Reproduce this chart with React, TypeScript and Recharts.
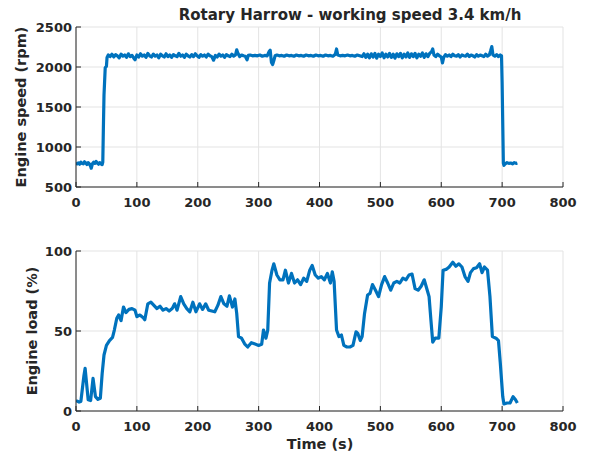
import { LineChart, Line, XAxis, YAxis, CartesianGrid } from "recharts";

const SPEED_T = [
  0, 2, 4, 6, 8, 10, 12, 14, 16, 18, 20, 22, 24, 25, 27, 29, 31, 33, 35, 37, 39, 41, 43, 44, 45, 46, 47, 48, 50, 51,
  53, 56, 59, 62, 65, 68, 71, 74, 77, 80, 83, 86, 89, 92, 95, 97, 100, 103, 106, 109, 112, 115, 118, 121, 124, 127,
  130, 133, 136, 139, 142, 145, 148, 151, 154, 157, 160, 163, 166, 169, 172, 175, 178, 181, 184, 187, 190, 193, 196,
  199, 202, 205, 208, 211, 214, 217, 220, 223, 226, 229, 232, 235, 238, 241, 244, 247, 250, 253, 256, 259, 262, 264,
  266, 269, 272, 275, 278, 281, 283, 286, 290, 294, 298, 302, 306, 310, 314, 317, 319, 321, 323, 325, 327, 330, 334,
  338, 342, 346, 350, 354, 358, 362, 366, 370, 374, 378, 382, 386, 390, 394, 398, 402, 406, 410, 414, 418, 422, 426,
  428, 430, 434, 438, 442, 446, 450, 454, 458, 462, 466, 470, 473, 476, 479, 482, 485, 488, 491, 494, 497, 500, 503,
  506, 509, 512, 515, 518, 521, 524, 527, 530, 533, 536, 539, 542, 545, 548, 551, 554, 557, 560, 563, 566, 569, 572,
  575, 578, 581, 584, 586, 588, 591, 594, 597, 600, 602, 604, 607, 610, 613, 616, 619, 622, 625, 628, 631, 634, 637,
  640, 643, 646, 649, 652, 655, 658, 661, 664, 667, 670, 673, 676, 679, 681, 683, 685, 688, 691, 694, 697, 699, 700,
  701, 702, 703, 705, 708, 711, 714, 717, 720, 723, 725,
];
const SPEED_RPM = [
  805, 790, 800, 785, 810, 795, 790, 815, 800, 780, 805, 790, 760, 735, 790, 810, 795, 820, 800, 785, 805, 790, 780, 810, 1250, 1650, 1820, 1990, 2010, 2120,
  2150, 2130, 2160, 2125, 2155, 2140, 2115, 2160, 2135, 2150, 2120, 2165, 2130, 2145, 2110, 2090, 2150, 2125, 2165, 2135, 2150, 2120, 2170, 2140, 2125, 2160,
  2135, 2150, 2115, 2160, 2140, 2125, 2165, 2130, 2150, 2120, 2155, 2140, 2130, 2170, 2135, 2150, 2120, 2160, 2140, 2125, 2155, 2130, 2165,
  2140, 2120, 2155, 2135, 2150, 2125, 2160, 2140, 2130, 2085, 2145, 2125, 2160, 2135, 2150, 2120, 2155, 2140, 2130, 2160, 2135, 2150, 2215,
  2170, 2130, 2150, 2140, 2135, 2090, 2145, 2150, 2140, 2145, 2140, 2150, 2135, 2145, 2140, 2190, 2210, 2060, 2030, 2080, 2140, 2150, 2140,
  2145, 2135, 2150, 2140, 2145, 2135, 2150, 2140, 2145, 2135, 2150, 2140, 2145, 2135, 2150, 2140, 2145, 2135, 2150, 2140, 2145, 2135, 2160,
  2225, 2150, 2140, 2145, 2140, 2150, 2140, 2145, 2135, 2150, 2140, 2130, 2165, 2120, 2160, 2115, 2165, 2125, 2170, 2110, 2160, 2130, 2175,
  2115, 2160, 2125, 2170, 2120, 2160, 2110, 2165, 2130, 2170, 2115, 2160, 2125, 2175, 2120, 2165, 2130, 2170, 2115, 2160, 2135, 2175, 2120,
  2165, 2130, 2170, 2190, 2225, 2150, 2130, 2160, 2140, 2125, 2050, 2120, 2155, 2135, 2150, 2130, 2160, 2140, 2135, 2155, 2125, 2150, 2140,
  2135, 2160, 2130, 2150, 2140, 2125, 2155, 2135, 2150, 2140, 2130, 2160, 2135, 2150, 2200, 2255, 2150, 2135, 2155, 2130, 2150, 2140, 1800,
  1300, 800, 770, 790, 805, 795, 800, 790, 805, 795, 800,
];

const LOAD_T = [
  0, 5, 8, 13, 15, 20, 24, 28, 32, 36, 40, 43, 46, 50, 55, 60, 63, 67, 70, 74, 78, 82, 87, 92, 97, 100, 105, 110, 113,
  118, 123, 128, 133, 138, 143, 148, 153, 158, 162, 166, 172, 177, 182, 187, 192, 197, 203, 208, 213, 218, 223, 228,
  233, 238, 243, 248, 252, 257, 261, 264, 267, 272, 277, 282, 288, 293, 300, 305, 308, 312, 315, 318, 322, 325, 330,
  335, 340, 344, 349, 354, 359, 364, 369, 374, 379, 384, 388, 393, 398, 403, 408, 413, 418, 421, 424, 428, 432, 436,
  440, 445, 450, 455, 460, 463, 467, 470, 474, 479, 483, 487, 492, 497, 502, 507, 512, 517, 522, 527, 532, 537, 542,
  547, 552, 557, 562, 567, 572, 577, 580, 583, 586, 590, 596, 600, 603, 608, 613, 619, 624, 629, 634, 639, 644, 648,
  653, 658, 663, 667, 671, 676, 680, 684, 690, 694, 697, 701, 703, 708, 713, 718, 722, 725,
];
const LOAD_PCT = [
  6.5, 5.6, 6, 22, 26.7, 7, 6.5, 20.4, 9, 7.3, 8, 23.5, 35, 41, 44, 46, 50.6, 58, 60, 56.5, 65, 61.5, 63.5, 64, 63, 59, 60, 58.5, 57,
  67, 68, 66, 64, 65.5, 63, 64, 62.5, 64, 67, 63, 71.5, 67, 64, 62, 68, 62, 67, 63.5, 67, 63, 62.5, 62,
  66, 71.5, 67, 65.5, 72, 65, 70, 61, 46.5, 45.5, 42, 40, 42.7, 42, 41, 41.7, 50.6, 45.5, 50.6, 80, 88, 92, 85,
  82, 82, 88, 80, 86, 80, 82, 79, 83, 81, 88, 91, 85, 83, 84, 82, 86, 80, 87, 81, 50.6, 46.5, 47.5,
  41, 40, 40, 41, 49.5, 48.5, 44, 46.5, 61, 72.5, 73.5, 79, 75.5, 71.5, 79, 84, 80, 75.5, 80, 81, 80, 83, 82,
  85, 85.6, 76.5, 75.5, 78, 82, 75.5, 71.5, 57, 43, 45.5, 45.5, 65, 88, 88.5, 90, 93, 90.5, 92, 90, 84, 81, 86.5,
  89, 89.5, 92, 86.5, 90, 88, 71.5, 46.5, 45.5, 44, 30, 9, 4.4, 5, 5, 9, 7, 5,
];

const X_TICKS = [0, 100, 200, 300, 400, 500, 600, 700, 800];
const SPEED_TICKS = [500, 1000, 1500, 2000, 2500];
const LOAD_TICKS = [0, 50, 100];

const speedData = SPEED_T.map((t, i) => ({ t, v: SPEED_RPM[i] }));
const loadData = LOAD_T.map((t, i) => ({ t, v: LOAD_PCT[i] }));

const INK = "#262626";
const FONT = "'DejaVu Sans', sans-serif";
const TL = 5;

const txt = { fontFamily: FONT, fontWeight: 700, fontSize: 13, fill: INK };

function BottomTick({ x, y, payload }: any) {
  return (
    <g>
      <line x1={x} x2={x} y1={y} y2={y - TL} stroke={INK} />
      <text x={x} y={y + 20} textAnchor="middle" {...txt}>{payload.value}</text>
    </g>
  );
}
function TopTick({ x, y }: any) {
  return <line x1={x} x2={x} y1={y} y2={y + TL} stroke={INK} />;
}
function LeftTick({ x, y, payload }: any) {
  return (
    <g>
      <line x1={x} x2={x + TL} y1={y} y2={y} stroke={INK} />
      <text x={x - 4} y={y + 5} textAnchor="end" {...txt}>{payload.value}</text>
    </g>
  );
}
function RightTick({ x, y }: any) {
  return <line x1={x} x2={x - TL} y1={y} y2={y} stroke={INK} />;
}

function Panel({ data, domain, ticks, sw }: { data: any[]; domain: number[]; ticks: number[]; sw: number }) {
  return (
    <LineChart width={593} height={215} data={data} margin={{ top: 27, left: 16, right: 30, bottom: 0 }}>
      <CartesianGrid xAxisId="b" yAxisId="l" stroke="#e3e3e3" />
      <XAxis xAxisId="b" dataKey="t" type="number" domain={[0, 800]} ticks={X_TICKS} allowDataOverflow
        tick={<BottomTick />} tickLine={false} tickSize={0} tickMargin={0} height={28} axisLine={{ stroke: INK }} />
      <XAxis xAxisId="tp" orientation="top" dataKey="t" type="number" domain={[0, 800]} ticks={X_TICKS} allowDataOverflow
        tick={<TopTick />} tickLine={false} tickSize={0} tickMargin={0} height={0} axisLine={{ stroke: INK }} />
      <YAxis yAxisId="l" type="number" domain={domain} ticks={ticks} allowDataOverflow
        tick={<LeftTick />} tickLine={false} tickSize={0} tickMargin={0} width={60} axisLine={{ stroke: INK }} />
      <YAxis yAxisId="r" orientation="right" type="number" domain={domain} ticks={ticks} allowDataOverflow
        tick={<RightTick />} tickLine={false} tickSize={0} tickMargin={0} width={0} axisLine={{ stroke: INK }} />
      <Line xAxisId="b" yAxisId="l" dataKey="v" type="linear" stroke="#0072BD" strokeWidth={sw}
        dot={false} isAnimationActive={false} strokeLinejoin="round" />
    </LineChart>
  );
}

export default function App() {
  const lab = { fontFamily: FONT, fontWeight: 700, fontSize: 14.5, fill: INK };
  return (
    <div style={{ position: "absolute", left: 0, top: 0, width: 593, height: 457, background: "#fff" }}>
      <div style={{ position: "absolute", left: 0, top: 0 }}>
        <Panel data={speedData} domain={[500, 2500]} ticks={SPEED_TICKS} sw={3.2} />
      </div>
      <div style={{ position: "absolute", left: 0, top: 224 }}>
        <Panel data={loadData} domain={[0, 100]} ticks={LOAD_TICKS} sw={3.2} />
      </div>
      <svg width={593} height={457} style={{ position: "absolute", left: 0, top: 0, pointerEvents: "none" }}>
        <text x={350} y={20} textAnchor="middle" {...lab} fontSize={15}>Rotary Harrow - working speed 3.4 km/h</text>
        <text transform="translate(26,107) rotate(-90)" textAnchor="middle" {...lab}>Engine speed (rpm)</text>
        <text transform="translate(37,331) rotate(-90)" textAnchor="middle" {...lab}>Engine load (%)</text>
        <text x={320} y={449} textAnchor="middle" {...lab}>Time (s)</text>
      </svg>
    </div>
  );
}
